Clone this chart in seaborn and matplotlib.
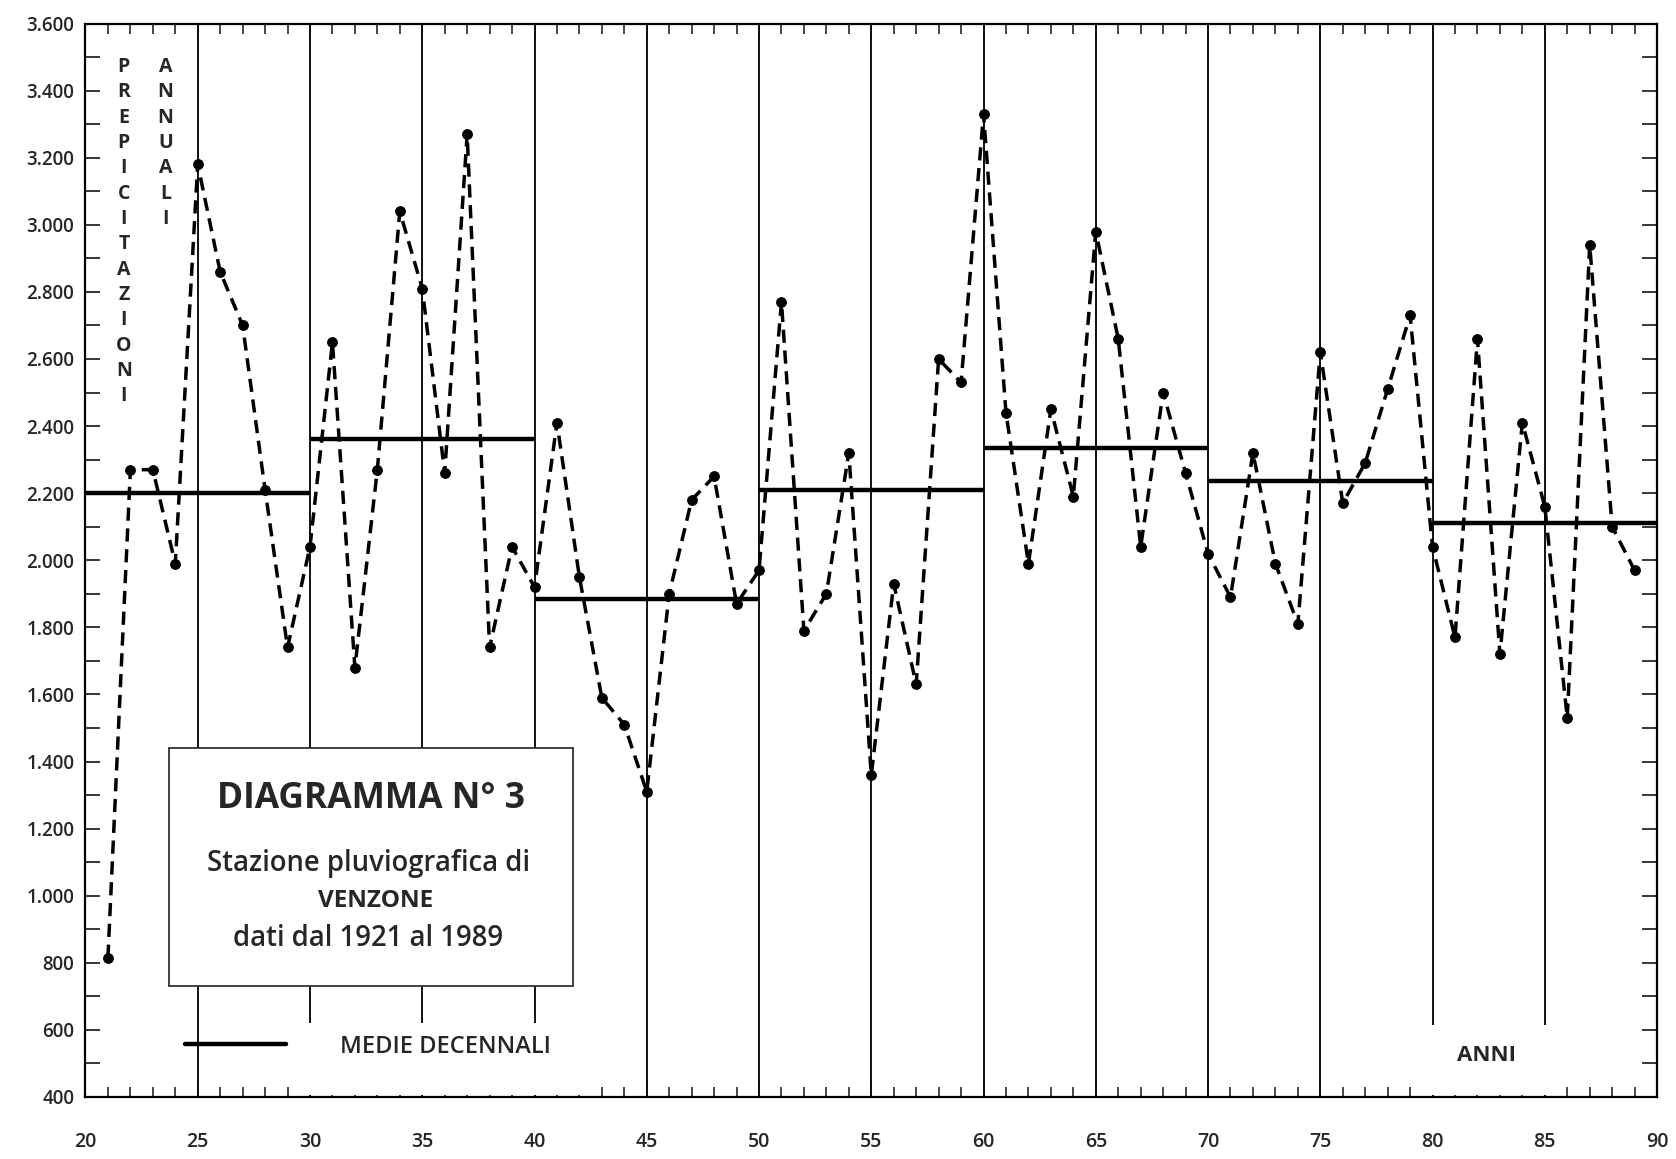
import matplotlib
matplotlib.use("Agg")
import matplotlib.pyplot as plt
import seaborn as sns
import pandas as pd
from matplotlib.ticker import MultipleLocator, FixedLocator, FuncFormatter
from matplotlib.patches import Rectangle

# ---------------- data ----------------
years = list(range(21, 90))
rain = [815, 2270, 2270, 1990, 3180, 2860, 2700, 2210, 1740, 2040,
        2650, 1680, 2270, 3040, 2810, 2260, 3270, 1740, 2040, 1920,
        2410, 1950, 1590, 1510, 1310, 1900, 2180, 2250, 1870, 1970,
        2770, 1790, 1900, 2320, 1360, 1930, 1630, 2600, 2530, 3330,
        2440, 1990, 2450, 2190, 2980, 2660, 2040, 2500, 2260, 2020,
        1890, 2320, 1990, 1810, 2620, 2170, 2290, 2510, 2730, 2040,
        1770, 2660, 1720, 2410, 2160, 1530, 2940, 2100, 1970]
decade_start = [20, 30, 40, 50, 60, 70, 80]
decade_end = [30, 40, 50, 60, 70, 80, 90]
decade_mean = [2200, 2360, 1885, 2210, 2335, 2235, 2110]
x_ticks = list(range(20, 95, 5))
y_ticks = list(range(400, 3800, 200))
divider_years = list(range(25, 90, 5))

title_main = "DIAGRAMMA N° 3"
title_lines = ["Stazione pluviografica di", "VENZONE", "dati dal 1921 al 1989"]
legend_label = "MEDIE DECENNALI"
ylabel_1 = "PREPICITAZIONI"
ylabel_2 = "ANNUALI"
xlabel = "ANNI"

# ---------------- style ----------------
sns.set_theme(style="white")
plt.rcParams["font.family"] = ["Open Sans", "DejaVu Sans"]
plt.rcParams["axes.linewidth"] = 1.6

fig = plt.figure(figsize=(16.76, 11.59), dpi=100)
ax = fig.add_axes([0.051, 0.0535, 0.9377, 0.9262])

df = pd.DataFrame({"anno": years, "mm": rain})

# vertical dividers every 5 years
ax.vlines(divider_years, 400, 3600, colors="#111111", lw=1.4, zorder=1.5)

# white areas behind annotations
ax.add_patch(Rectangle((29.3, 405), 13.0, 215, facecolor="white", edgecolor="none", zorder=2))
ax.add_patch(Rectangle((79.3, 405), 6.3, 210, facecolor="white", edgecolor="none", zorder=2))

# decadal means
ax.hlines(decade_mean, decade_start, decade_end, colors="black", lw=3.2, zorder=3)

# annual series
sns.lineplot(data=df, x="anno", y="mm", ax=ax, color="black", marker="o",
             markersize=7, markeredgecolor="black", lw=2.5,
             linestyle=(0, (3.8, 2.2)), zorder=4)

# info box
ax.add_patch(Rectangle((23.71, 732), 18.0, 707, facecolor="white",
                       edgecolor="#333333", lw=1.3, zorder=5))
ax.text(32.7, 1289, title_main, ha="center", va="center", fontsize=25.5,
        fontweight="bold", zorder=6)
ax.text(32.6, 1095, title_lines[0], ha="center", va="center", fontsize=19.8,
        fontweight="semibold", zorder=6)
ax.text(32.9, 984, title_lines[1], ha="center", va="center", fontsize=17.5,
        fontweight="bold", zorder=6)
ax.text(32.6, 872, title_lines[2], ha="center", va="center", fontsize=19.8,
        fontweight="semibold", zorder=6)

# legend
leg = ax.legend(handles=[plt.Line2D([], [], color="black", lw=3.2)], labels=[legend_label],
                loc="center left", bbox_to_anchor=(24.43, 550),
                bbox_transform=ax.transData, frameon=False, borderpad=0,
                borderaxespad=0, handlelength=4.3, handletextpad=2.27,
                prop={"size": 17, "weight": "semibold"})
leg.set_zorder(6)

# vertical stacked labels (one letter per line)
letter_step = 75.5
for xpos, word in [(21.71, ylabel_1), (23.57, ylabel_2)]:
    for i, ch in enumerate(word):
        ax.text(xpos, 3470 - i * letter_step, ch, ha="center", va="center",
                fontsize=14, fontweight="bold", zorder=6)
ax.text(82.4, 525, xlabel, ha="center", va="center", fontsize=16,
        fontweight="bold", zorder=6)

# axes
ax.set_xlim(20, 90)
ax.set_ylim(400, 3600)
ax.xaxis.set_major_locator(FixedLocator(x_ticks))
ax.xaxis.set_minor_locator(MultipleLocator(1))
ax.yaxis.set_major_locator(FixedLocator(y_ticks))
ax.yaxis.set_minor_locator(MultipleLocator(100))
ax.yaxis.set_major_formatter(FuncFormatter(lambda v, p: f"{int(v):,}".replace(",", ".")))
ax.set_xlabel("")
ax.set_ylabel("")
for s in ax.spines.values():
    s.set_color("black")
    s.set_linewidth(1.6)

ax.tick_params(axis="x", which="major", direction="in", length=12, width=1.4,
               top=True, bottom=True, pad=25, labelsize=14)
ax.tick_params(axis="x", which="minor", direction="in", length=7, width=1.2,
               top=True, bottom=True)
ax.tick_params(axis="y", which="both", direction="in", length=11, width=1.3,
               left=True, right=True, pad=8, labelsize=13.5)
for lab in ax.get_xticklabels() + ax.get_yticklabels():
    lab.set_fontweight("semibold")

fig.savefig("out.png", dpi=100, facecolor="white")
